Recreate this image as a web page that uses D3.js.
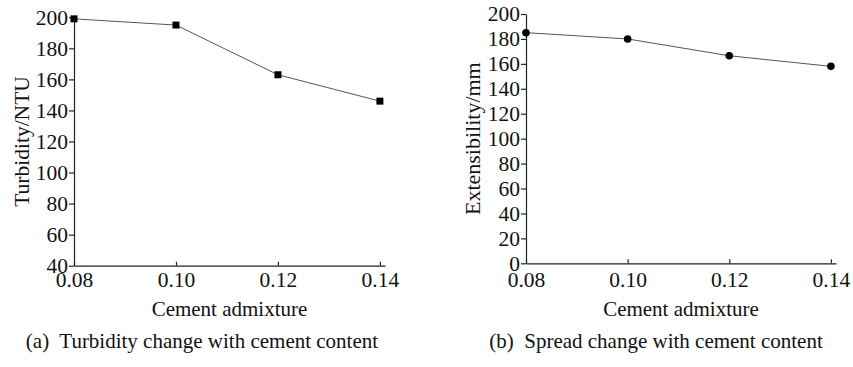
<!DOCTYPE html>
<html>
<head>
<meta charset="utf-8">
<script src="https://cdn.jsdelivr.net/npm/d3@7"></script>
<style>
  body { margin: 0; background: #fff; }
</style>
</head>
<body>
<div id="main"></div>
<script>
// data
const cement = [0.08, 0.10, 0.12, 0.14]
const turbidity = [199, 195, 163, 146]
const spread = [185, 180, 166.5, 158]
const xTicks = [0.08, 0.10, 0.12, 0.14]
const yTicksA = [40, 60, 80, 100, 120, 140, 160, 180, 200]
const yTicksB = [0, 20, 40, 60, 80, 100, 120, 140, 160, 180, 200]

const FONT = "'Liberation Serif', 'Times New Roman', 'DejaVu Serif', serif"

const svg = d3.select("#main").append("svg")
    .attr("width", 853).attr("height", 367)
    .attr("font-family", FONT)

function panel(opt) {
    let scX = d3.scaleLinear().domain([0.08, 0.141]).range([opt.x0, opt.x1])
    let scY = d3.scaleLinear().domain(opt.yDom).range([opt.y0, opt.y1])
    let g = svg.append("g")

    // y axis, ticks pointing out
    let ay = g.append("g")
        .attr("transform", `translate(${opt.x0},0)`)
        .call(d3.axisLeft(scY).tickValues(opt.yTicks).tickSize(5).tickSizeOuter(0).tickPadding(1))
    ay.attr("font-family", FONT).attr("font-size", 21.5)

    // x axis, ticks pointing in
    let ax = g.append("g")
        .attr("transform", `translate(0,${opt.y0})`)
        .call(d3.axisBottom(scX).tickValues(xTicks).tickSize(-4).tickSizeOuter(0)
            .tickFormat(d3.format(".2f")))
    ax.attr("font-family", FONT).attr("font-size", 21.5)
    ax.selectAll("text").attr("dy", null).attr("y", 287 - opt.y0)
    g.selectAll("text").attr("fill", "#111")
    g.selectAll(".domain, .tick line").attr("stroke", "#222").attr("stroke-width", 1.2)

    let line = d3.line().x((d, i) => scX(cement[i])).y(d => scY(d))
    g.append("path").attr("d", line(opt.vals))
        .attr("fill", "none").attr("stroke", "#555").attr("stroke-width", 1)

    if (opt.square) {
        g.selectAll("rect.pt").data(opt.vals).enter().append("rect")
            .attr("x", (d, i) => scX(cement[i]) - 3.5)
            .attr("y", d => scY(d) - 3.5)
            .attr("width", 7).attr("height", 7).attr("fill", "#000")
    } else {
        g.selectAll("circle.pt").data(opt.vals).enter().append("circle")
            .attr("cx", (d, i) => scX(cement[i]))
            .attr("cy", d => scY(d))
            .attr("r", 3.8).attr("fill", "#000")
    }

    // titles
    g.append("text")
        .attr("x", (opt.x0 + opt.x1) / 2).attr("y", 316)
        .attr("text-anchor", "middle").attr("font-size", 21).attr("fill", "#111")
        .text("Cement admixture")
    g.append("text")
        .attr("transform", `translate(${opt.yTitleX},${(opt.y0 + opt.y1) / 2}) rotate(-90)`)
        .attr("text-anchor", "middle").attr("font-size", opt.yTitleSize).attr("fill", "#111")
        .text(opt.yTitle)
    g.append("text")
        .attr("x", opt.capX).attr("y", 348)
        .attr("text-anchor", "middle").attr("font-size", 21).attr("fill", "#111")
        .attr("xml:space", "preserve")
        .text(opt.caption)
}

panel({x0: 74, x1: 385, y0: 265.7, y1: 17.3, yDom: [40, 200], yTicks: yTicksA,
    vals: turbidity, square: true, yTitle: "Turbidity/NTU", yTitleX: 29, yTitleSize: 21.5,
    caption: "(a)  Turbidity change with cement content", capX: 202})

panel({x0: 526, x1: 836, y0: 263.3, y1: 14, yDom: [0, 200], yTicks: yTicksB,
    vals: spread, square: false, yTitle: "Extensibility/mm", yTitleX: 480, yTitleSize: 22,
    caption: "(b)  Spread change with cement content", capX: 656})
</script>
</body>
</html>
